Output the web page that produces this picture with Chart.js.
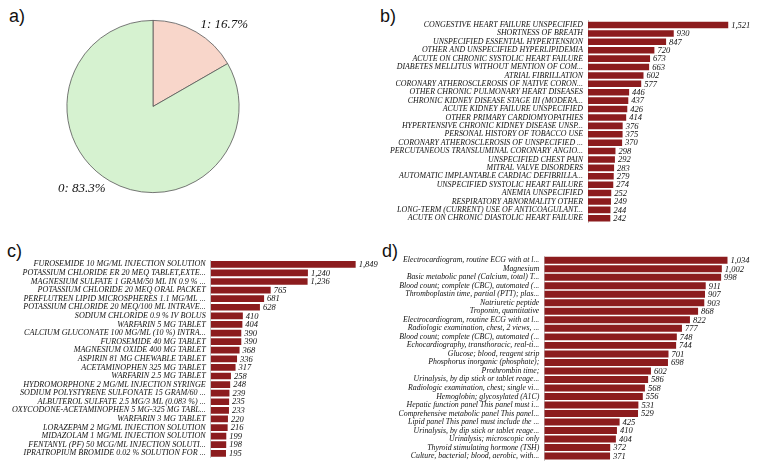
<!DOCTYPE html>
<html>
<head>
<meta charset="utf-8">
<script src="https://cdn.jsdelivr.net/npm/chart.js@4/dist/chart.umd.min.js"></script>
<style>
  body { margin: 0; background: #fff; }
  #page { position: relative; width: 758px; height: 470px; background: #fff; overflow: hidden; }
  .panel { position: absolute; }
  .tag { position: absolute; font-family: 'Liberation Sans', Arial, sans-serif; font-size: 18px; color: #111; line-height: 1; }
</style>
</head>
<body>
<div id="page">
  <div class="tag" style="left:9px;top:7px;">a)</div>
  <div class="tag" style="left:380px;top:7px;">b)</div>
  <div class="tag" style="left:7px;top:242px;">c)</div>
  <div class="tag" style="left:382px;top:242px;">d)</div>

  <div class="panel" style="left:0px;top:0px;"><canvas id="pie" width="380" height="235"></canvas></div>
  <div class="panel" style="left:380px;top:0px;"><canvas id="diag" width="378" height="235"></canvas></div>
  <div class="panel" style="left:0px;top:235px;"><canvas id="meds" width="380" height="235"></canvas></div>
  <div class="panel" style="left:380px;top:235px;"><canvas id="labs" width="378" height="235"></canvas></div>
</div>

<script>
// ── Data ────────────────────────────────────

const pieLabels = ['1', '0'];
const pieValues = [16.7, 83.3];

const diagLabels = [
    'CONGESTIVE HEART FAILURE UNSPECIFIED',
    'SHORTNESS OF BREATH',
    'UNSPECIFIED ESSENTIAL HYPERTENSION',
    'OTHER AND UNSPECIFIED HYPERLIPIDEMIA',
    'ACUTE ON CHRONIC SYSTOLIC HEART FAILURE',
    'DIABETES MELLITUS WITHOUT MENTION OF COM...',
    'ATRIAL FIBRILLATION',
    'CORONARY ATHEROSCLEROSIS OF NATIVE CORON...',
    'OTHER CHRONIC PULMONARY HEART DISEASES',
    'CHRONIC KIDNEY DISEASE STAGE III (MODERA...',
    'ACUTE KIDNEY FAILURE UNSPECIFIED',
    'OTHER PRIMARY CARDIOMYOPATHIES',
    'HYPERTENSIVE CHRONIC KIDNEY DISEASE UNSP...',
    'PERSONAL HISTORY OF TOBACCO USE',
    'CORONARY ATHEROSCLEROSIS OF UNSPECIFIED ...',
    'PERCUTANEOUS TRANSLUMINAL CORONARY ANGIO...',
    'UNSPECIFIED CHEST PAIN',
    'MITRAL VALVE DISORDERS',
    'AUTOMATIC IMPLANTABLE CARDIAC DEFIBRILLA...',
    'UNSPECIFIED SYSTOLIC HEART FAILURE',
    'ANEMIA UNSPECIFIED',
    'RESPIRATORY ABNORMALITY OTHER',
    'LONG-TERM (CURRENT) USE OF ANTICOAGULANT...',
    'ACUTE ON CHRONIC DIASTOLIC HEART FAILURE',
];
const diagCounts = [1521, 930, 847, 720, 673, 663, 602, 577, 446, 437, 426, 414,
    376, 375, 370, 298, 292, 283, 279, 274, 252, 249, 244, 242];

const medLabels = [
    'FUROSEMIDE 10 MG/ML INJECTION SOLUTION',
    'POTASSIUM CHLORIDE ER 20 MEQ TABLET,EXTE...',
    'MAGNESIUM SULFATE 1 GRAM/50 ML IN 0.9 % ...',
    'POTASSIUM CHLORIDE 20 MEQ ORAL PACKET',
    'PERFLUTREN LIPID MICROSPHERES 1.1 MG/ML ...',
    'POTASSIUM CHLORIDE 20 MEQ/100 ML INTRAVE...',
    'SODIUM CHLORIDE 0.9 % IV BOLUS',
    'WARFARIN 5 MG TABLET',
    'CALCIUM GLUCONATE 100 MG/ML (10 %) INTRA...',
    'FUROSEMIDE 40 MG TABLET',
    'MAGNESIUM OXIDE 400 MG TABLET',
    'ASPIRIN 81 MG CHEWABLE TABLET',
    'ACETAMINOPHEN 325 MG TABLET',
    'WARFARIN 2.5 MG TABLET',
    'HYDROMORPHONE 2 MG/ML INJECTION SYRINGE',
    'SODIUM POLYSTYRENE SULFONATE 15 GRAM/60 ...',
    'ALBUTEROL SULFATE 2.5 MG/3 ML (0.083 %) ...',
    'OXYCODONE-ACETAMINOPHEN 5 MG-325 MG TABL...',
    'WARFARIN 3 MG TABLET',
    'LORAZEPAM 2 MG/ML INJECTION SOLUTION',
    'MIDAZOLAM 1 MG/ML INJECTION SOLUTION',
    'FENTANYL (PF) 50 MCG/ML INJECTION SOLUTI...',
    'IPRATROPIUM BROMIDE 0.02 % SOLUTION FOR ...',
];
const medCounts = [1849, 1240, 1236, 765, 681, 628, 410, 404, 390, 390, 368, 336,
    317, 258, 248, 239, 235, 233, 220, 216, 199, 198, 195];

const labLabels = [
    'Electrocardiogram, routine ECG with at l...',
    'Magnesium',
    'Basic metabolic panel (Calcium, total) T...',
    'Blood count; complete (CBC), automated (...',
    'Thromboplastin time, partial (PTT); plas...',
    'Natriuretic peptide',
    'Troponin, quantitative',
    'Electrocardiogram, routine ECG with at l...',
    'Radiologic examination, chest, 2 views, ...',
    'Blood count; complete (CBC), automated (...',
    'Echocardiography, transthoracic, real-ti...',
    'Glucose; blood, reagent strip',
    'Phosphorus inorganic (phosphate);',
    'Prothrombin time;',
    'Urinalysis, by dip stick or tablet reage...',
    'Radiologic examination, chest; single vi...',
    'Hemoglobin; glycosylated (A1C)',
    'Hepatic function panel This panel must i...',
    'Comprehensive metabolic panel This panel...',
    'Lipid panel This panel must include the ...',
    'Urinalysis, by dip stick or tablet reage...',
    'Urinalysis; microscopic only',
    'Thyroid stimulating hormone (TSH)',
    'Culture, bacterial; blood, aerobic, with...',
];
const labCounts = [1034, 1002, 998, 911, 907, 903, 868, 822, 777, 748, 744, 701,
    698, 602, 586, 568, 556, 531, 529, 425, 410, 404, 372, 371];

// ── Style ───────────────────────────────────

const BAR_COLOR = '#8c1c1e';
const PIE_COLORS = ['#f8d6ca', '#d6f2d0'];
const SERIF = "'Liberation Serif', 'Times New Roman', serif";
const TEXT_COLOR = '#111';

// ── Plugins ─────────────────────────────────

// value text at the end of each bar
const barValuePlugin = {
    id: 'barValues',
    afterDatasetsDraw(chart) {
        const ctx = chart.ctx;
        const meta = chart.getDatasetMeta(0);
        const values = chart.data.datasets[0].data;
        ctx.save();
        ctx.font = 'italic 8.5px ' + SERIF;
        ctx.fillStyle = TEXT_COLOR;
        ctx.textAlign = 'left';
        ctx.textBaseline = 'middle';
        meta.data.forEach((bar, i) => {
            ctx.fillText(values[i].toLocaleString('en-US'), bar.x + 3, bar.y + 0.5);
        });
        ctx.restore();
    },
};

// matplotlib-style outside labels for the pie
const pieLabelPlugin = {
    id: 'pieLabels',
    afterDatasetsDraw(chart) {
        const ctx = chart.ctx;
        const meta = chart.getDatasetMeta(0);
        const values = chart.data.datasets[0].data;
        ctx.save();
        ctx.font = 'italic 13px ' + SERIF;
        ctx.fillStyle = TEXT_COLOR;
        ctx.textBaseline = 'middle';
        meta.data.forEach((arc, i) => {
            const mid = (arc.startAngle + arc.endAngle) / 2;
            const r = arc.outerRadius * 1.1;
            const x = arc.x + Math.cos(mid) * r;
            const y = arc.y + Math.sin(mid) * r;
            ctx.textAlign = Math.cos(mid) >= 0 ? 'left' : 'right';
            ctx.fillText(chart.data.labels[i] + ': ' + values[i].toFixed(1) + '%', x, y);
        });
        ctx.restore();
    },
};

// ── Charts ──────────────────────────────────

new Chart(document.getElementById('pie'), {
    type: 'pie',
    data: {
        labels: pieLabels,
        datasets: [{
            data: pieValues,
            backgroundColor: PIE_COLORS,
            borderColor: '#555',
            borderWidth: 0.8,
        }],
    },
    options: {
        responsive: false,
        animation: false,
        layout: { padding: { left: 66.5, right: 140.5, top: 20, bottom: 42 } },
        plugins: { legend: { display: false }, tooltip: { enabled: false } },
    },
    plugins: [pieLabelPlugin],
});

function barChart(canvasId, labels, values, opts) {
    return new Chart(document.getElementById(canvasId), {
        type: 'bar',
        data: {
            labels,
            datasets: [{
                data: values,
                backgroundColor: BAR_COLOR,
                borderWidth: 0,
                barPercentage: opts.barPct,
                categoryPercentage: 1,
            }],
        },
        options: {
            indexAxis: 'y',
            responsive: false,
            animation: false,
            layout: { padding: { left: 0, right: opts.right, top: opts.top, bottom: opts.bottom } },
            plugins: { legend: { display: false }, tooltip: { enabled: false } },
            scales: {
                x: { display: false, min: 0, max: opts.max },
                y: {
                    afterFit(scale) { scale.width = opts.axisX; },
                    grid: { display: false, drawTicks: false },
                    border: { display: true, color: '#c8c8c8', width: 1 },
                    ticks: {
                        autoSkip: false,
                        padding: 5,
                        color: TEXT_COLOR,
                        font: { family: SERIF, style: 'italic', size: opts.fontSize },
                    },
                },
            },
        },
        plugins: [barValuePlugin],
    });
}

barChart('diag', diagLabels, diagCounts, { axisX: 208, max: 1757, right: 8, top: 20.8, bottom: 12.5, barPct: 0.78, fontSize: 7.9 });
barChart('meds', medLabels, medCounts, { axisX: 210.7, max: 2032, right: 10, top: 25, bottom: 12.4, barPct: 0.78, fontSize: 8.1 });
barChart('labs', labLabels, labCounts, { axisX: 164.3, max: 1161, right: 8, top: 21, bottom: 9.7, barPct: 0.82, fontSize: 7.8 });
</script>
</body>
</html>
